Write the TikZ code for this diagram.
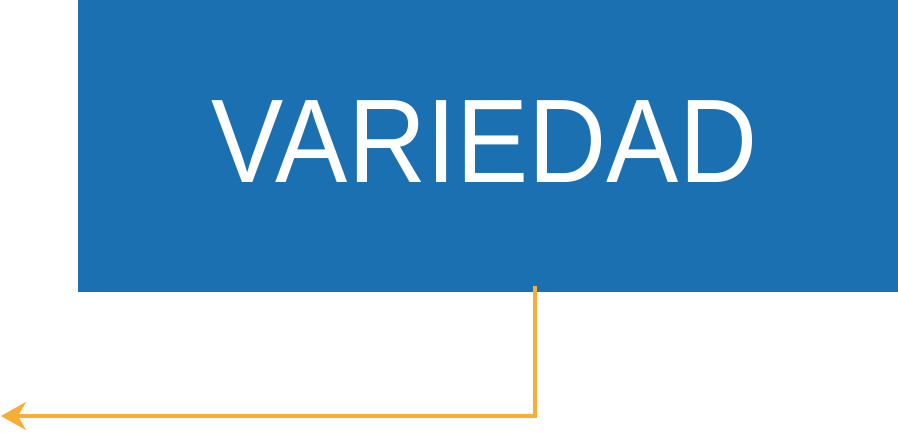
\documentclass[tikz,border=0pt]{standalone}
\usepackage{fontspec}
\setmainfont{Liberation Sans}
\usetikzlibrary{arrows.meta}
\definecolor{boxblue}{RGB}{26,112,176}
\definecolor{linkorange}{RGB}{248,174,52}
\begin{document}
\begin{tikzpicture}[x=1pt,y=-1pt,
  bluebox/.style={fill=boxblue, draw=none},
  title/.style={text=white, inner sep=0pt, font=\fontsize{119}{119}\selectfont, xscale=0.91},
  link/.style={draw=linkorange, line width=3.5pt, -{Stealth[length=25pt,width=28pt,inset=8pt]}}]
\useasboundingbox (0,0) rectangle (898,432);
\fill[bluebox] (78,0) rectangle (898,292);
\node[title] (t) at (484.5,142) {VARIEDAD};
\coordinate (s) at (535,286);
\coordinate (e) at (1,416);
\draw[link] (s) |- (e);
\end{tikzpicture}
\end{document}
